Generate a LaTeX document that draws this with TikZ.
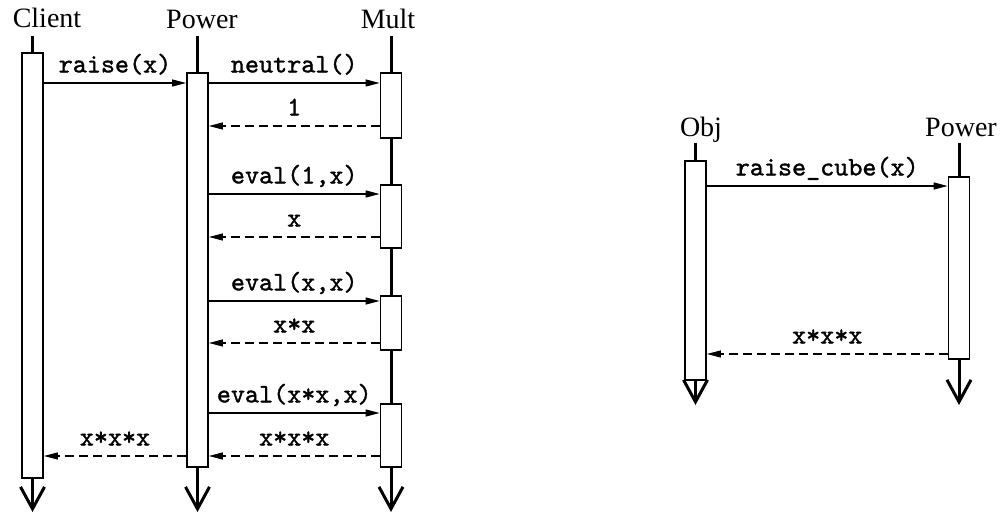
\documentclass[tikz,border=0pt]{standalone}
\usepackage{fontspec}
\setmainfont{Liberation Serif}
\newfontfamily\msgfont{lmmono10-regular}[Extension=.otf,FakeBold=1.3]
\usetikzlibrary{arrows.meta,positioning}

\begin{document}
\begin{tikzpicture}[x=0.5pt,y=-0.5pt,
    head/.style={font=\fontsize{14}{16}\selectfont,inner sep=0pt,anchor=base},
    act/.style={rectangle,draw,fill=white,line width=0.9pt,minimum width=10.5pt,inner sep=0pt,anchor=north},
    life/.style={line width=1.5pt,-{Straight Barb[length=11pt,width=12pt]}},
    call/.style={line width=0.6pt,-{Triangle[length=7pt,width=3.5pt]}},
    reply/.style={call,dash pattern=on 4.5pt off 2.5pt},
    msg/.style={font=\msgfont\bfseries\fontsize{13.4}{15}\selectfont,text depth=0pt,inner sep=0pt,above=5pt}]
    \useasboundingbox (0,0) rectangle (1008,513);

    % left diagram
    \node[head] (hclient) at (47,28) {Client};
    \node[head] (hpower) at (202,29) {Power};
    \node[head] (hmult) at (388,29) {Mult};

    \coordinate (r1) at (0,83);
    \coordinate (r2) at (0,126);
    \coordinate (r3) at (0,194);
    \coordinate (r4) at (0,237);
    \coordinate (r5) at (0,301);
    \coordinate (r6) at (0,343);
    \coordinate (r7) at (0,413);
    \coordinate (r8) at (0,456);

    \path (32.5,52) coordinate (ctop) (197.5,72) coordinate (ptop) (391,72) coordinate (mtop);
    \draw[life] ([yshift=8pt]ctop) -- ++(0,476);
    \draw[life] ([yshift=18pt]ptop) -- ++(0,476);
    \draw[life] ([yshift=18pt]mtop) -- ++(0,476);

    \node[act,minimum height=212.5pt] (cact) at (ctop) {};
    \node[act,minimum height=197pt] (pact) at (ptop) {};
    \node[act,minimum height=32.5pt] (mact1) at (mtop) {};
    \node[act,minimum height=31.5pt] (mact2) at (391,184) {};
    \node[act,minimum height=27pt] (mact3) at (391,295) {};
    \node[act,minimum height=31.5pt] (mact4) at (391,403) {};

    \draw[call] (cact.east |- r1) -- (pact.west |- r1) node[msg,midway] {raise(x)};
    \draw[call] (pact.east |- r1) -- (mact1.west |- r1) node[msg,midway] {neutral()};
    \draw[reply] (mact1.west |- r2) -- (pact.east |- r2) node[msg,midway] {1};
    \draw[call] (pact.east |- r3) -- (mact2.west |- r3) node[msg,midway] {eval(1,x)};
    \draw[reply] (mact2.west |- r4) -- (pact.east |- r4) node[msg,midway] {x};
    \draw[call] (pact.east |- r5) -- (mact3.west |- r5) node[msg,midway] {eval(x,x)};
    \draw[reply] (mact3.west |- r6) -- (pact.east |- r6) node[msg,midway] {x*x};
    \draw[call] (pact.east |- r7) -- (mact4.west |- r7) node[msg,midway] {eval(x*x,x)};
    \draw[reply] (mact4.west |- r8) -- (pact.east |- r8) node[msg,midway] {x*x*x};
    \draw[reply] (pact.west |- r8) -- (cact.east |- r8) node[msg,midway] {x*x*x};

    % right diagram
    \node[head] (hobj) at (701,137) {Obj};
    \node[head] (hpower2) at (961,137) {Power};

    \coordinate (s1) at (0,186);
    \coordinate (s2) at (0,354);

    \path (695.5,160) coordinate (otop) (959,176) coordinate (qtop);
    \draw[life] ([yshift=8.5pt]otop) -- ++(0,262);
    \draw[life] ([yshift=16.5pt]qtop) -- ++(0,262);

    \node[act,minimum height=109.5pt] (oact) at (otop) {};
    \node[act,minimum height=91pt] (qact) at (qtop) {};

    \draw[call] (oact.east |- s1) -- (qact.west |- s1) node[msg,midway] {raise\_cube(x)};
    \draw[reply] (qact.west |- s2) -- (oact.east |- s2) node[msg,midway] {x*x*x};
\end{tikzpicture}
\end{document}
